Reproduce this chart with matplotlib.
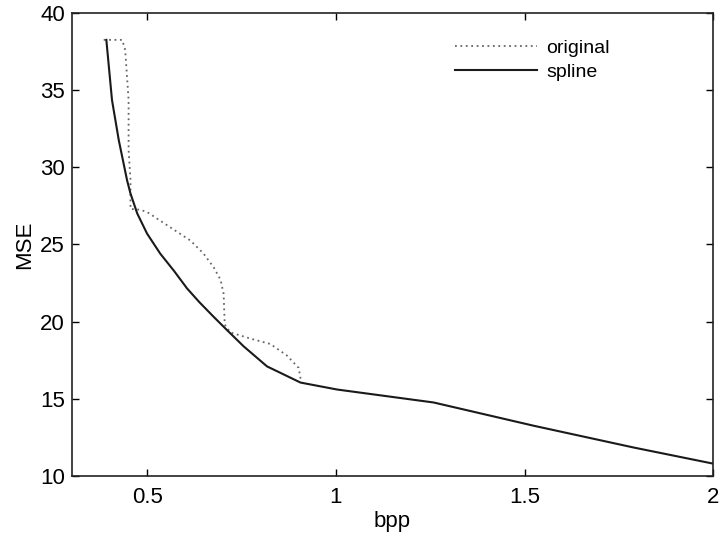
import matplotlib.pyplot as plt

plt.rcParams['font.family'] = ['Liberation Sans', 'DejaVu Sans']

# original rate-distortion points
orig_bpp = [0.384, 0.433, 0.441, 0.450, 0.450, 0.455, 0.455, 0.480, 0.499, 0.561,
            0.614, 0.649, 0.676, 0.694, 0.702, 0.705, 0.720, 0.773, 0.826, 0.870,
            0.901, 0.906]
orig_mse = [38.25, 38.25, 37.6, 34.35, 31.1, 29.2, 27.3, 27.25, 27.1, 26.1,
            25.25, 24.4, 23.5, 22.7, 21.8, 19.8, 19.3, 18.9, 18.55, 17.8,
            17.0, 16.3]

# spline fit
spl_bpp = [0.391, 0.406, 0.424, 0.446, 0.455, 0.473, 0.499, 0.534, 0.570, 0.605,
           0.638, 0.676, 0.711, 0.755, 0.817, 0.906, 1.003, 1.259, 1.525, 1.79, 2.0]
spl_mse = [38.25, 34.35, 31.75, 29.15, 28.3, 27.0, 25.7, 24.4, 23.3, 22.15,
           21.25, 20.3, 19.45, 18.4, 17.1, 16.05, 15.6, 14.76, 13.25, 11.84, 10.8]

fig = plt.figure(figsize=(7.21, 5.36), dpi=100)
ax = fig.add_axes([0.0999, 0.112, 0.8891, 0.864])

ax.plot(orig_bpp, orig_mse, color='#666666', linestyle=(0, (1, 2)), linewidth=1.3, label='original')
ax.plot(spl_bpp, spl_mse, color='#1a1a1a', linewidth=1.5, label='spline')

ax.set_xlim(0.3, 2)
ax.set_ylim(10, 40)
ax.set_xticks([0.5, 1, 1.5, 2])
ax.set_xticklabels(['0.5', '1', '1.5', '2'])
ax.set_yticks([10, 15, 20, 25, 30, 35, 40])
ax.tick_params(axis='both', direction='in', length=5, width=1, top=True, right=True, labelsize=16)
ax.tick_params(axis='x', pad=8)
ax.tick_params(axis='y', pad=5)
for s in ax.spines.values():
    s.set_linewidth(1.2)
    s.set_color('#222222')

ax.set_xlabel('bpp', fontsize=16, labelpad=2)
ax.set_ylabel('MSE', fontsize=16, labelpad=4)

ax.legend(loc='upper left', bbox_to_anchor=(0.57, 0.98), frameon=False, fontsize=14,
          handlelength=4.2, handletextpad=0.5, labelspacing=0.3)

fig.savefig('out.png', dpi=100)
